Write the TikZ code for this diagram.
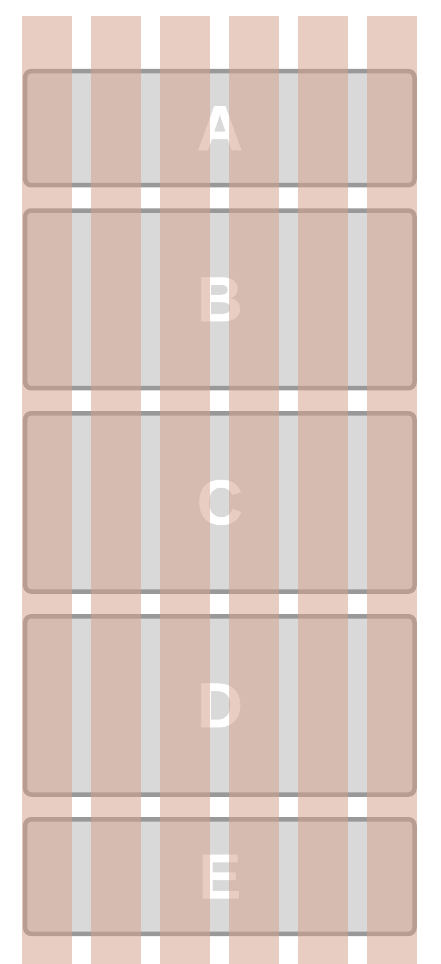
\documentclass[tikz,border=0pt]{standalone}
\usepackage{fontspec}
\setmainfont{Liberation Sans}
\newfontfamily\heavyfont{Liberation Sans Bold}[FakeBold=1.2]
\definecolor{boxfill}{RGB}{217,217,217}
\definecolor{boxline}{RGB}{153,153,153}
\definecolor{colpink}{RGB}{212,161,140}
\begin{document}
\begin{tikzpicture}[x=1pt,y=-1pt,
  band/.style={draw=boxline, fill=boxfill, line width=4.5pt, rounded corners=6pt,
    minimum width=389.3pt, inner sep=0pt, text=white,
    font=\fontsize{63}{63}\selectfont\heavyfont},
  gridcol/.style={fill=colpink, fill opacity=0.53}]
\useasboundingbox (0,0) rectangle (440,964);
\node[band, minimum height=114pt]   (A) at (219.85,128.2) {A};
\node[band, minimum height=177.7pt] (B) at (219.85,299.35) {B};
\node[band, minimum height=178.2pt] (C) at (219.85,502.4) {C};
\node[band, minimum height=178.2pt] (D) at (219.85,705.4) {D};
\node[band, minimum height=114.5pt] (E) at (219.85,876.55) {E};
\foreach \i in {0,...,5}{
  \fill[gridcol] (22+69*\i,16) rectangle (72+69*\i,964);
}
\end{tikzpicture}
\end{document}
